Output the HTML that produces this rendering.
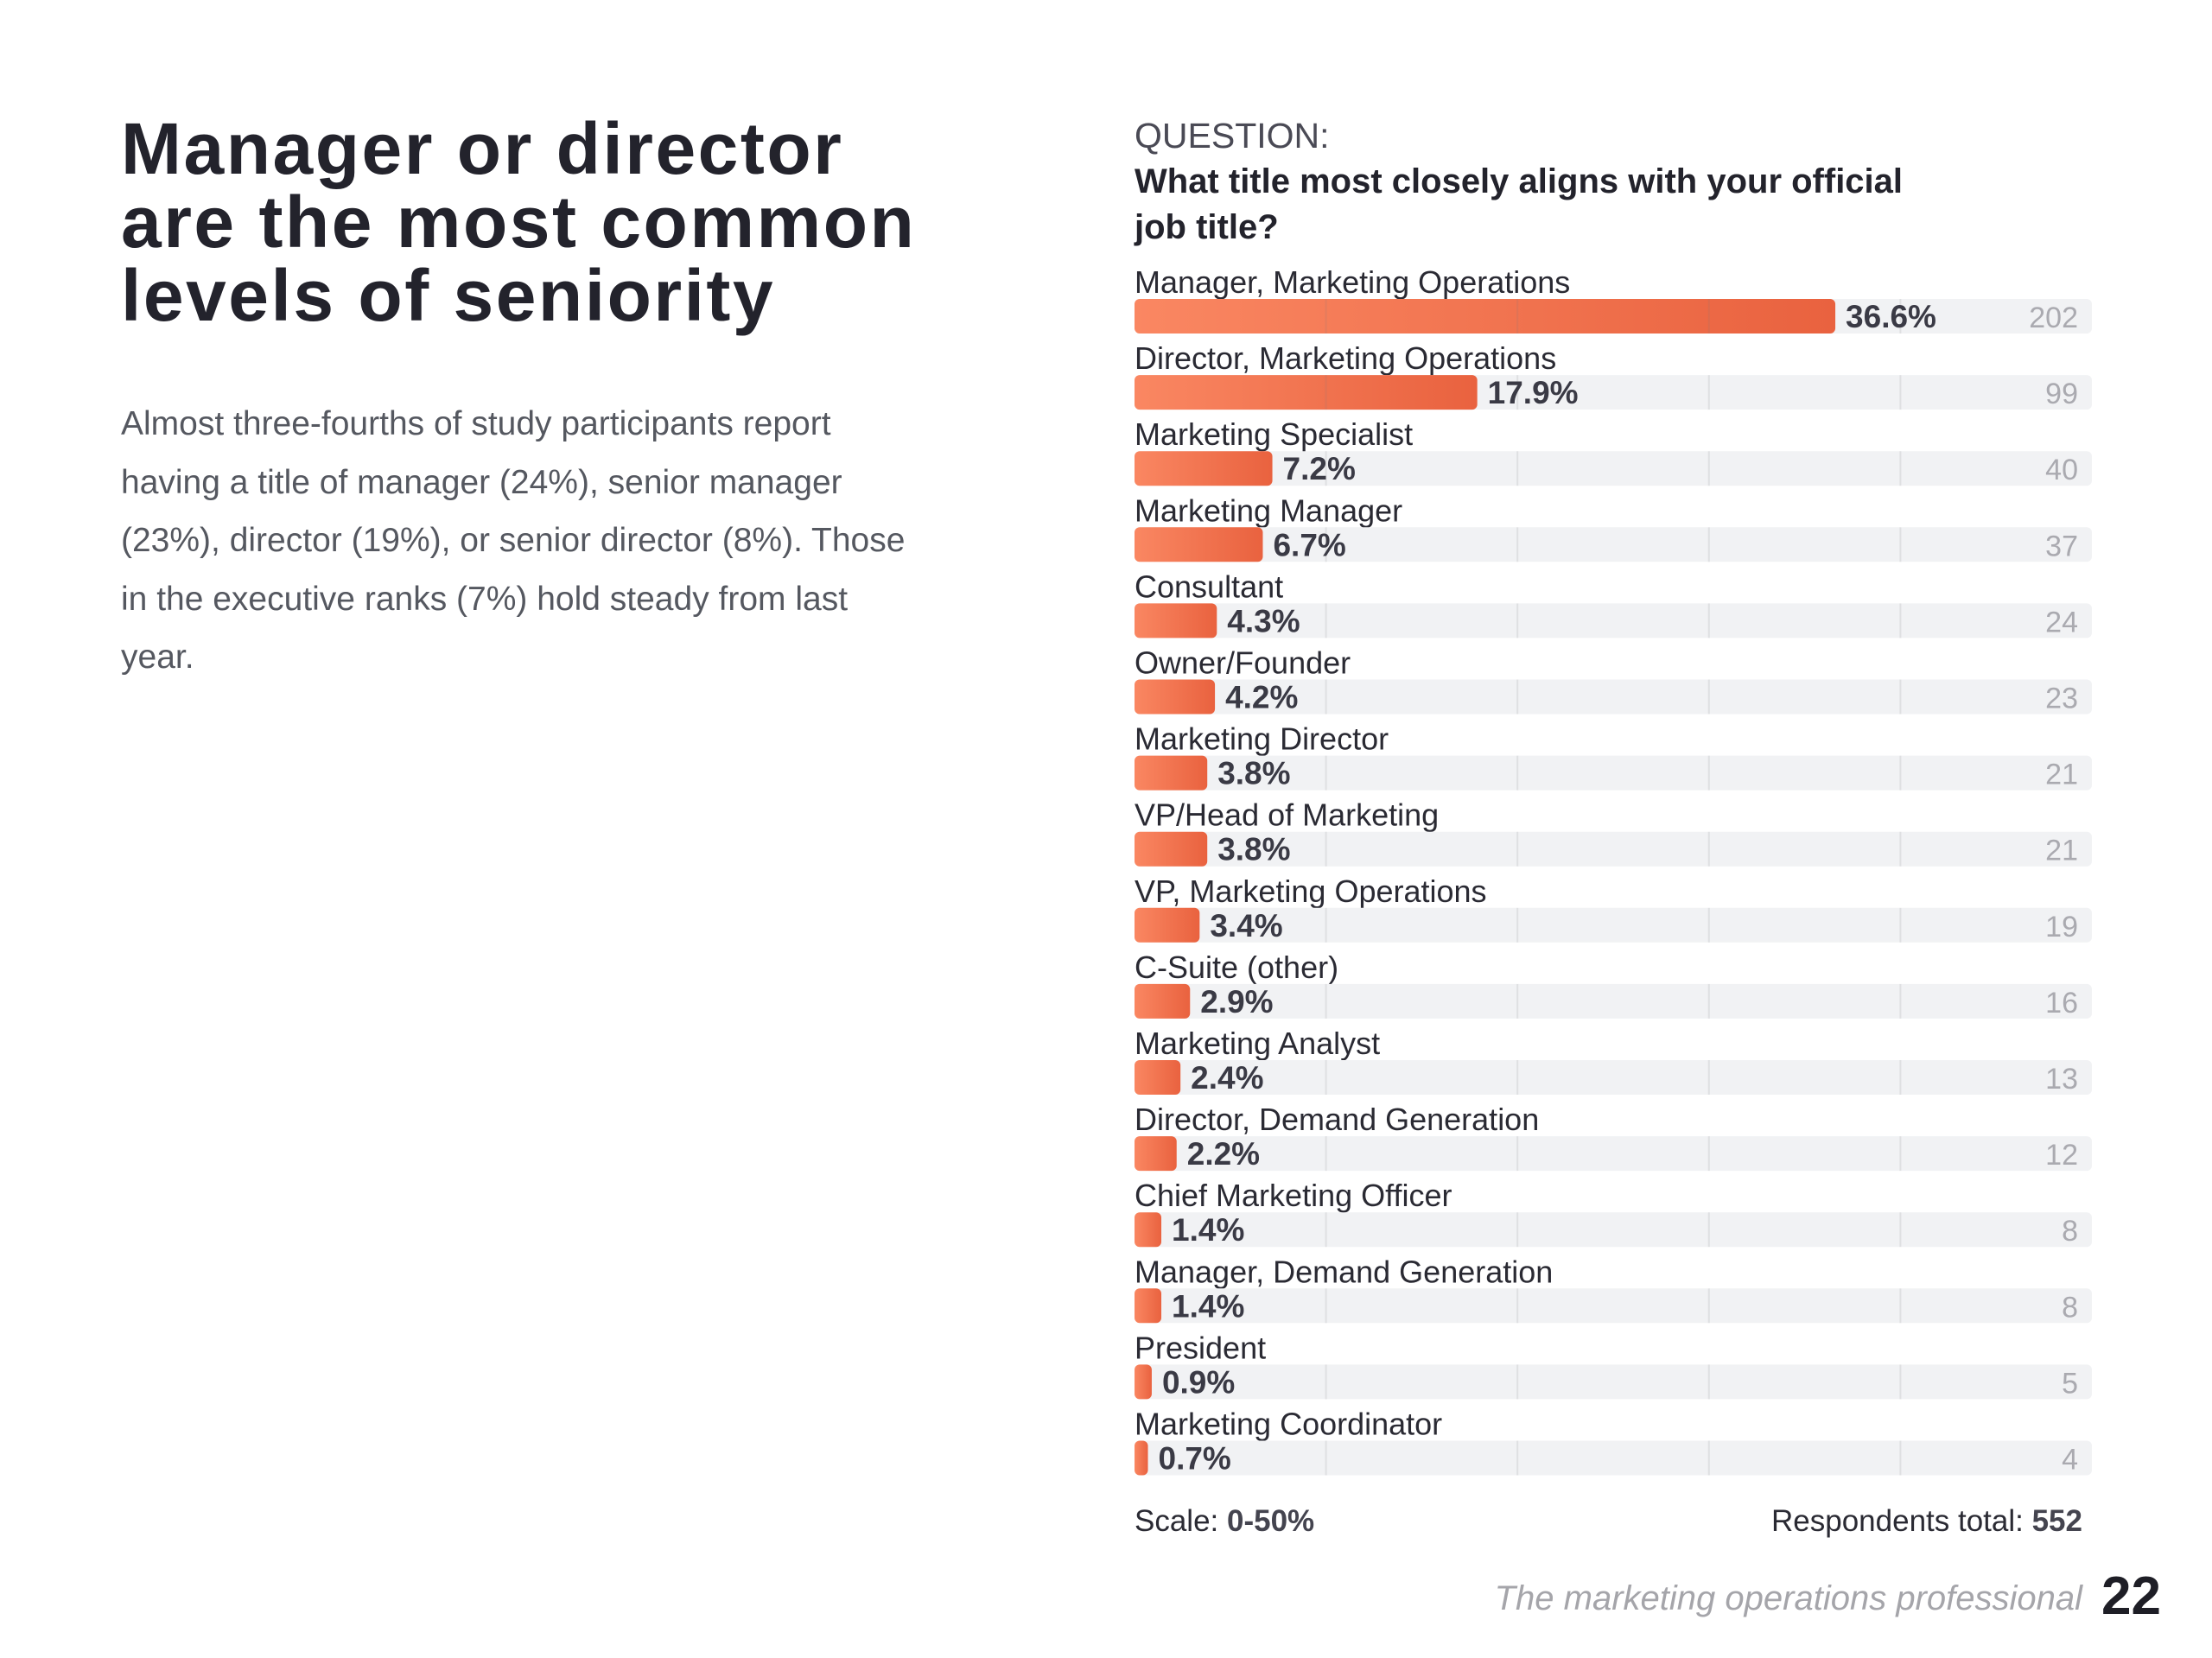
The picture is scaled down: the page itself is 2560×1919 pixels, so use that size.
<!DOCTYPE html>
<html><head><meta charset="utf-8"><style>
body{margin:0;width:2560px;height:1919px;background:#fff;position:relative;overflow:hidden;font-family:"Liberation Sans",sans-serif;}
.abs{position:absolute;white-space:nowrap;}
</style></head><body>
<div class="abs" style="left:140px;top:130px;font-size:84px;font-weight:bold;line-height:85px;color:#23232c;letter-spacing:2.5px;">Manager or director<br>are the most common<br>levels of seniority</div>
<div class="abs" style="left:140px;top:457px;font-size:39px;line-height:67.5px;color:#555860;">Almost three-fourths of study participants report<br>having a title of manager (24%), senior manager<br>(23%), director (19%), or senior director (8%). Those<br>in the executive ranks (7%) hold steady from last<br>year.</div>
<div class="abs" style="left:1313px;top:134px;font-size:41px;color:#4a4a55;">QUESTION:</div>
<div class="abs" style="left:1313px;top:184px;font-size:40px;font-weight:bold;line-height:53px;color:#23232c;">What title most closely aligns with your official<br>job title?</div>
<svg id="chart" width="2560" height="1919" style="position:absolute;left:0;top:0;">
<defs><linearGradient id="g" x1="0" x2="1" y1="0" y2="0"><stop offset="0" stop-color="#fa8762"/><stop offset="1" stop-color="#e9623f"/></linearGradient></defs>
</svg>
<div class="abs" style="left:1313px;top:1741px;font-size:35px;color:#2a2a33;">Scale: <b style="color:#44444f">0-50%</b></div>
<div class="abs" style="right:150px;top:1741px;font-size:35px;color:#2a2a33;">Respondents total: <b style="color:#44444f">552</b></div>
<div class="abs" style="right:150px;top:1828px;font-size:40px;font-style:italic;color:#a5a5aa;">The marketing operations professional</div>
<div class="abs" style="left:2432px;top:1812px;font-size:62px;font-weight:bold;color:#1e1e26;">22</div>
<script>
const categories=["Manager, Marketing Operations","Director, Marketing Operations","Marketing Specialist","Marketing Manager","Consultant","Owner/Founder","Marketing Director","VP/Head of Marketing","VP, Marketing Operations","C-Suite (other)","Marketing Analyst","Director, Demand Generation","Chief Marketing Officer","Manager, Demand Generation","President","Marketing Coordinator"];
const percents=[36.6,17.9,7.2,6.7,4.3,4.2,3.8,3.8,3.4,2.9,2.4,2.2,1.4,1.4,0.9,0.7];
const counts=[202,99,40,37,24,23,21,21,19,16,13,12,8,8,5,4];
const gridTicks=[10,20,30,40];
const svg=document.getElementById('chart');
const NS='http://www.w3.org/2000/svg';
const x0=1313,xw=1108,maxV=50,y0=346,pitch=88.1,bh=40;
const xs=v=>x0+v/maxV*xw;
function mk(t,a){const e=document.createElementNS(NS,t);for(const k in a)e.setAttribute(k,a[k]);svg.appendChild(e);return e;}
categories.forEach((c,i)=>{
  const y=y0+i*pitch;
  const lab=mk('text',{x:x0,y:y-7,'font-size':36,fill:'#2a2a33','font-family':'Liberation Sans, sans-serif'});
  lab.textContent=c;
  
  
  const tr=mk('rect',{x:x0,y:y,width:xw,height:bh,rx:6,fill:'#f1f2f4'});
  
  
  const b=mk('rect',{x:x0,y:y,width:xs(percents[i])-x0,height:bh,rx:6,fill:'url(#g)'});
  
  
  gridTicks.forEach(t=>{const l=mk('line',{x1:xs(t),x2:xs(t),y1:y,y2:y+bh,stroke:'rgba(120,120,130,0.15)','stroke-width':2});
    
    });
  const p=mk('text',{x:xs(percents[i])+12,y:y+33,'font-size':37,'font-weight':'bold',fill:'#3a3a45','font-family':'Liberation Sans, sans-serif'});
  p.textContent=percents[i].toFixed(1)+'%';
  
  
  const n=mk('text',{x:2405,y:y+33,'font-size':34,fill:'#aaaab0','text-anchor':'end','font-family':'Liberation Sans, sans-serif'});
  n.textContent=counts[i];
  
  
});
</script>
</body></html>
